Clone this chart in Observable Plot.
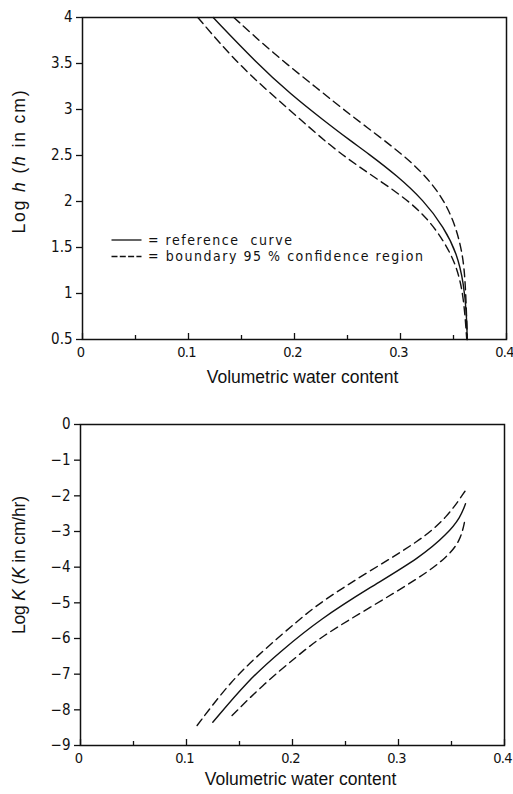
<!DOCTYPE html>
<html><head><meta charset="utf-8">
<script src="https://cdn.jsdelivr.net/npm/d3@7"></script>
<script src="https://cdn.jsdelivr.net/npm/@observablehq/plot@0.6"></script>
<style>
html,body{margin:0;padding:0;background:#fff}
#c{width:513px;height:794px;overflow:hidden}
#c svg{display:block}
</style></head><body><div id="c"></div>
<script>
// ---- axis ticks ----
const xTicks = [0, 0.1, 0.2, 0.3, 0.4];
const xMinorTicks = [0.05, 0.15, 0.25, 0.35];
const hTicks = [0.5, 1, 1.5, 2, 2.5, 3, 3.5, 4];
const kTicks = [0, -1, -2, -3, -4, -5, -6, -7, -8, -9];

// ---- text ----
const xTitle = "Volumetric water content";
const legendRef = "= reference  curve";
const legendBound = "= boundary 95 % confidence region";

// ---- water retention curve: log h vs theta ----
const hRefTheta = [0.1233, 0.1648, 0.196, 0.2277, 0.2528, 0.2686, 0.2969, 0.322, 0.341, 0.3535, 0.3597, 0.3623, 0.363];
const hRefLog   = [4.0, 3.50, 3.17, 2.88, 2.66, 2.53, 2.28, 2.01, 1.72, 1.43, 1.105, 0.78, 0.5];
const hLowTheta = [0.1088, 0.149, 0.196, 0.234, 0.2654, 0.2969, 0.322, 0.341, 0.3535, 0.3597, 0.3625];
const hLowLog   = [4.0, 3.46, 2.99, 2.60, 2.34, 2.10, 1.866, 1.576, 1.286, 0.96, 0.5];
const hUpTheta  = [0.1428, 0.1805, 0.2214, 0.2528, 0.2843, 0.3157, 0.3377, 0.3503, 0.3582, 0.3613, 0.363];
const hUpLog    = [4.0, 3.605, 3.23, 2.94, 2.67, 2.38, 2.083, 1.793, 1.467, 1.14, 0.5];

// ---- hydraulic conductivity: log K vs theta ----
const kRefTheta = [0.1248, 0.1572, 0.1887, 0.2264, 0.2736, 0.3208, 0.346, 0.3585, 0.3632];
const kRefLog   = [-8.35, -7.20, -6.36, -5.45, -4.56, -3.72, -3.07, -2.60, -2.22];
const kUpTheta  = [0.110, 0.1415, 0.173, 0.2044, 0.2264, 0.2736, 0.3208, 0.346, 0.3632];
const kUpLog    = [-8.44, -7.20, -6.32, -5.52, -4.98, -4.09, -3.25, -2.60, -1.85];
const kLowTheta = [0.143, 0.173, 0.2044, 0.2264, 0.2736, 0.3208, 0.346, 0.3585, 0.3626];
const kLowLog   = [-8.16, -7.27, -6.50, -5.96, -5.12, -4.28, -3.72, -3.25, -2.69];

const rows = (xs, ys) => xs.map((x, i) => ({x, y: ys[i]}));
const fmt = d => d < 0 ? "\u2212" + Math.abs(d) : String(d);

const tickFont = "'Liberation Sans Narrow','DejaVu Sans Condensed',sans-serif";
const titleFont = "'Liberation Sans',Arial,sans-serif";

function panel({height, mt, mb, ml, mr, yDomain, yTicks, ref, low, up, titleDy}) {
  return Plot.plot({
    width: 513, height,
    marginTop: mt, marginBottom: mb, marginLeft: ml, marginRight: mr,
    style: {fontFamily: tickFont, fontSize: "15px", color: "#111", background: "#fff", overflow: "visible"},
    x: {domain: [0, 0.4]},
    y: {domain: yDomain},
    marks: [
      Plot.axisY({ticks: yTicks, tickSize: 6, tickPadding: 4, tickFormat: fmt, label: null, strokeWidth: 1.3}),
      Plot.axisX({ticks: xTicks, tickSize: 0, tickPadding: 7, tickFormat: fmt, label: null, dx: -2, fontSize: 14.5}),
      Plot.axisX({ticks: xTicks, tickSize: -6, tickFormat: () => "", label: null, strokeWidth: 1.3}),
      Plot.axisX({ticks: xMinorTicks, tickSize: -4, tickFormat: () => "", label: null, strokeWidth: 1.3}),
      Plot.frame({stroke: "#111", strokeWidth: 1.5}),
      Plot.line(ref, {x: "x", y: "y", stroke: "#111", strokeWidth: 1.4, curve: "basis"}),
      Plot.line(low, {x: "x", y: "y", stroke: "#111", strokeWidth: 1.4, strokeDasharray: "8,5", curve: "basis"}),
      Plot.line(up, {x: "x", y: "y", stroke: "#111", strokeWidth: 1.4, strokeDasharray: "8,5", curve: "basis"}),
      Plot.text([xTitle], {frameAnchor: "bottom", dx: 8, dy: titleDy, lineAnchor: "bottom", text: d => d,
        fontFamily: titleFont, fontSize: 17.5, fill: "#111"})
    ]
  });
}

const topPlot = panel({height: 395, mt: 17, mb: 56, ml: 82, mr: 7, yDomain: [0.5, 4], yTicks: hTicks, titleDy: 43,
  ref: rows(hRefTheta, hRefLog), low: rows(hLowTheta, hLowLog), up: rows(hUpTheta, hUpLog)});
const botPlot = panel({height: 399, mt: 29, mb: 49, ml: 80, mr: 9, yDomain: [-9, 0], yTicks: kTicks, titleDy: 39,
  ref: rows(kRefTheta, kRefLog), low: rows(kLowTheta, kLowLog), up: rows(kUpTheta, kUpLog)});

const c = document.getElementById("c");
c.appendChild(topPlot);
c.appendChild(botPlot);

// tighten x tick labels (narrow typeface in the original)
d3.selectAll('#c svg g[aria-label="x-axis tick label"]').attr("letter-spacing", "-0.7px");

// y-axis titles with italic variable
function yTitle(svg, cx, cy, len, parts) {
  const t = d3.select(svg).append("text")
    .attr("transform", `translate(${cx},${cy}) rotate(-90)`)
    .attr("text-anchor", "middle")
    .attr("font-family", titleFont).attr("font-size", 17.5).attr("fill", "#111")
    .attr("textLength", len).attr("lengthAdjust", "spacing");
  parts.forEach(([s, it]) => t.append("tspan").attr("font-style", it ? "italic" : null).text(s));
}
yTitle(topPlot, 25, 162, 143, [["Log ", 0], ["h", 1], [" (", 0], ["h", 1], [" in cm)", 0]]);
yTitle(botPlot, 25, 170, 138, [["Log ", 0], ["K", 1], [" (", 0], ["K", 1], [" in cm/hr)", 0]]);

// legend (top panel)
const lg = d3.select(topPlot).append("g").attr("stroke", "#111").attr("stroke-width", 1.3);
lg.append("line").attr("x1", 111.5).attr("x2", 141.5).attr("y1", 240).attr("y2", 240);
lg.append("line").attr("x1", 111.5).attr("x2", 141.5).attr("y1", 256.5).attr("y2", 256.5).attr("stroke-dasharray", "6,2.3");
const lt = d3.select(topPlot).append("g").attr("font-family", "'DejaVu Sans Condensed','DejaVu Sans',sans-serif")
  .attr("font-size", 14).attr("fill", "#111").attr("text-anchor", "start");
lt.append("text").attr("x", 148).attr("y", 245).attr("textLength", 144).attr("lengthAdjust", "spacing").text(legendRef);
lt.append("text").attr("x", 148).attr("y", 261).attr("textLength", 275).attr("lengthAdjust", "spacing").text(legendBound);
</script></body></html>
